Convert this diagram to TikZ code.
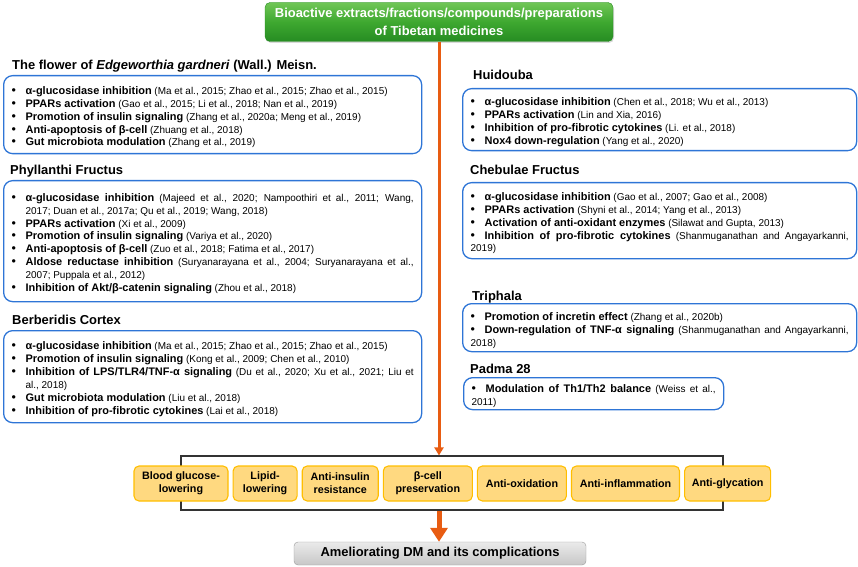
\documentclass[tikz,border=0pt]{standalone}
\usepackage{fontspec}
\setmainfont{Liberation Sans}
\usetikzlibrary{arrows.meta,positioning,shadows}

\definecolor{boxblue}{RGB}{46,117,214}
\definecolor{floworange}{RGB}{232,92,18}
\definecolor{srcgreen}{RGB}{62,168,48}
\definecolor{srcgreenlight}{RGB}{112,198,86}
\definecolor{srcgreendark}{RGB}{38,140,34}
\definecolor{effectfill}{RGB}{255,217,128}
\definecolor{effectdraw}{RGB}{255,190,0}

\hyphenpenalty=10000
\exhyphenpenalty=10000
\tolerance=9000

\newcommand{\finding}[2]{\par\noindent\hangindent=14bp\hangafter=1%
  \makebox[14bp][l]{\fontsize{12.5}{13}\selectfont\textbullet}{\fontsize{11}{13}\bfseries #1} #2}

\begin{document}
\begin{tikzpicture}
        [
            x = 1bp, y = -1bp,
            node distance = 4bp,
            herbbox/.style = {
                draw=boxblue, line width=1.3bp, rounded corners=9bp,
                anchor=north west, inner xsep=8bp, inner ysep=0bp,
                align=justify, font=\fontsize{10}{13}\selectfont},
            herbtitle/.style = {
                anchor=base west, inner sep=0pt,
                font=\fontsize{13}{15}\selectfont\bfseries},
            effect/.style = {
                draw=effectdraw, fill=effectfill, line width=1.1bp,
                rounded corners=5bp, minimum height=35bp, inner xsep=2bp,
                align=center, font=\fontsize{10.8}{13}\selectfont\bfseries},
            flow/.style = {draw=floworange, line width=3bp,
                -{Triangle[width=9bp,length=8bp]}},
            bigflow/.style = {draw=floworange, line width=5bp,
                -{Triangle[width=17bp,length=14bp]}}
        ]
        \useasboundingbox (0,0) rectangle (858,567);

        \node [draw=srcgreendark, top color=srcgreenlight, bottom color=srcgreendark,
               middle color=srcgreen, rounded corners=5bp, minimum width=348bp,
               minimum height=39bp, text=white, align=center,
               font=\fontsize{13}{18.5}\selectfont\bfseries,
               drop shadow={opacity=0.3, shadow xshift=1bp, shadow yshift=-1.5bp}]
            (source) at (439,22) {Bioactive extracts/fractions/compounds/preparations\\of Tibetan medicines};

        \node [herbtitle] (flowertitle) at (12,70) {The flower of \textit{Edgeworthia gardneri} (Wall.) Meisn.};
        \node [herbbox, text width=402bp, minimum height=78bp] (flower) at (3,75) {%
            \finding{α-glucosidase inhibition}{(Ma et al., 2015; Zhao et al., 2015; Zhao et al., 2015)}
            \finding{PPARs activation}{(Gao et al., 2015; Li et al., 2018; Nan et al., 2019)}
            \finding{Promotion of insulin signaling}{(Zhang et al., 2020a; Meng et al., 2019)}
            \finding{Anti-apoptosis of β-cell}{(Zhuang et al., 2018)}
            \finding{Gut microbiota modulation}{(Zhang et al., 2019)}};

        \node [herbtitle] (phyllanthititle) at (10,175) {Phyllanthi Fructus};
        \node [herbbox, text width=402bp, minimum height=121bp] (phyllanthi) at (3,180) {%
            \finding{α-glucosidase inhibition}{(Majeed et al., 2020; Nampoothiri et al., 2011; Wang,\linebreak 2017; Duan et al., 2017a; Qu et al., 2019; Wang, 2018)}
            \finding{PPARs activation}{(Xi et al., 2009)}
            \finding{Promotion of insulin signaling}{(Variya et al., 2020)}
            \finding{Anti-apoptosis of β-cell}{(Zuo et al., 2018; Fatima et al., 2017)}
            \finding{Aldose reductase inhibition}{(Suryanarayana et al., 2004; Suryanarayana et al.,\linebreak 2007; Puppala et al., 2012)}
            \finding{Inhibition of Akt/β-catenin signaling}{(Zhou et al., 2018)}};

        \node [herbtitle] (berberidistitle) at (12,324) {Berberidis Cortex};
        \node [herbbox, text width=402bp, minimum height=92bp] (berberidis) at (3,330) {%
            \finding{α-glucosidase inhibition}{(Ma et al., 2015; Zhao et al., 2015; Zhao et al., 2015)}
            \finding{Promotion of insulin signaling}{(Kong et al., 2009; Chen et al., 2010)}
            \finding{Inhibition of LPS/TLR4/TNF-α signaling}{(Du et al., 2020; Xu et al., 2021; Liu et\linebreak al., 2018)}
            \finding{Gut microbiota modulation}{(Liu et al., 2018)}
            \finding{Inhibition of pro-fibrotic cytokines}{(Lai et al., 2018)}};

        \node [herbtitle] (huidoubatitle) at (473,80) {Huidouba};
        \node [herbbox, text width=378bp, minimum height=62bp] (huidouba) at (462,88) {%
            \finding{α-glucosidase inhibition}{(Chen et al., 2018; Wu et al., 2013)}
            \finding{PPARs activation}{(Lin and Xia, 2016)}
            \finding{Inhibition of pro-fibrotic cytokines}{(Li. et al., 2018)}
            \finding{Nox4 down-regulation}{(Yang et al., 2020)}};

        \node [herbtitle] (chebulaetitle) at (470,175) {Chebulae Fructus};
        \node [herbbox, text width=378bp, minimum height=76bp] (chebulae) at (462,182) {%
            \finding{α-glucosidase inhibition}{(Gao et al., 2007; Gao et al., 2008)}
            \finding{PPARs activation}{(Shyni et al., 2014; Yang et al., 2013)}
            \finding{Activation of anti-oxidant enzymes}{(Silawat and Gupta, 2013)}
            \finding{Inhibition of pro-fibrotic cytokines}{(Shanmuganathan and Angayarkanni,\linebreak 2019)}};

        \node [herbtitle] (triphalatitle) at (472,300) {Triphala};
        \node [herbbox, text width=378bp, minimum height=48bp] (triphala) at (462,303) {%
            \finding{Promotion of incretin effect}{(Zhang et al., 2020b)}
            \finding{Down-regulation of TNF-α signaling}{(Shanmuganathan and Angayarkanni,\linebreak 2018)}};

        \node [herbtitle] (padmatitle) at (470,373) {Padma 28};
        \node [herbbox, text width=244bp, minimum height=32bp] (padma) at (463,377) {%
            \finding{Modulation of Th1/Th2 balance}{(Weiss et al.,\linebreak 2011)}};

        \node [draw=black!80, line width=1.1bp, minimum width=542bp, minimum height=54bp,
               inner sep=0pt] (effects) at (452,483) {};
        \node [effect, minimum width=94bp] (glucose) at (181,483.5) {Blood glucose-\\lowering};
        \node [effect, minimum width=64bp, right=of glucose] (lipid) {Lipid-\\lowering};
        \node [effect, minimum width=76bp, right=of lipid] (insulin) {Anti-insulin\\resistance};
        \node [effect, minimum width=89bp, right=of insulin] (betacell) {β-cell\\preservation};
        \node [effect, minimum width=89bp, right=of betacell] (oxidation) {Anti-oxidation};
        \node [effect, minimum width=108bp, right=of oxidation] (inflammation) {Anti-inflammation};
        \node [effect, minimum width=86bp, right=of inflammation] (glycation) {Anti-glycation};

        \node [draw=black!40, top color=black!8, bottom color=black!22, rounded corners=4bp,
               minimum width=292bp, minimum height=23bp,
               font=\fontsize{13}{15}\selectfont\bfseries] (outcome) at (440,553.5)
            {Ameliorating DM and its complications};

        \draw [flow] (source.south) -- (source.south |- effects.north);
        \draw [bigflow] (source.south |- effects.south) -- (source.south |- outcome.north);
    \end{tikzpicture}
\end{document}
